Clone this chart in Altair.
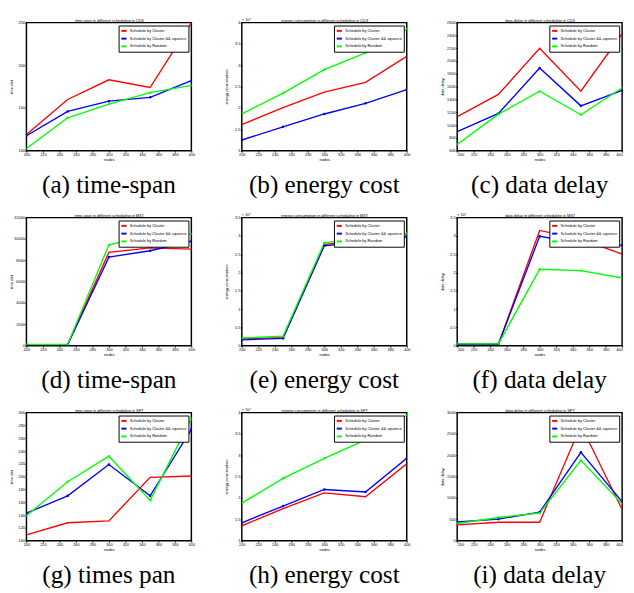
import altair as alt
import pandas as pd

nodes = [200, 250, 300, 350, 400]
series = ["Schedule by Cluster", "Schedule by Cluster && squence", "Schedule by Random"]
colors = ["#FF0000", "#0000FF", "#00FF00"]
x_ticks = [200, 220, 240, 260, 280, 300, 320, 340, 360, 380, 400]

# (a) CDS time-span
cds_time_cluster = [119, 160, 183, 174, 250]
cds_time_seq = [117.5, 146, 158, 162.5, 182]
cds_time_random = [102.5, 138.5, 154.5, 168, 176.5]
cds_time_ticks = [100, 150, 200, 250]
# (b) CDS energy (x 10^4)
cds_energy_cluster = [1.61, 2.01, 2.37, 2.60, 3.21]
cds_energy_seq = [1.25, 1.56, 1.86, 2.11, 2.43]
cds_energy_random = [1.86, 2.35, 2.90, 3.29, 3.85]
cds_energy_ticks = [1, 1.5, 2, 2.5, 3, 3.5, 4]
# (c) CDS data delay
cds_delay_cluster = [1131, 1478, 2198, 1528, 2426]
cds_delay_seq = [898, 1181, 1890, 1300, 1543]
cds_delay_random = [699, 1171, 1528, 1161, 1583]
cds_delay_ticks = [600, 800, 1000, 1200, 1400, 1600, 1800, 2000, 2200, 2400, 2600]
# (d) MST time-span
mst_time_cluster = [100, 100, 8750, 9160, 9050]
mst_time_seq = [100, 100, 8300, 8900, 9790]
mst_time_random = [120, 120, 9460, 10300, 10480]
mst_time_ticks = [0, 2000, 4000, 6000, 8000, 10000, 12000]
# (e) MST energy (x 10^4)
mst_energy_cluster = [0.19, 0.22, 2.76, 2.91, 3.03]
mst_energy_seq = [0.16, 0.20, 2.73, 2.85, 2.97]
mst_energy_random = [0.21, 0.26, 2.81, 2.96, 3.07]
mst_energy_ticks = [0, 0.5, 1, 1.5, 2, 2.5, 3, 3.5]
# (f) MST data delay (x 10^4)
mst_delay_cluster = [0.04, 0.04, 3.15, 2.91, 2.50]
mst_delay_seq = [0.04, 0.04, 2.99, 2.80, 2.74]
mst_delay_random = [0.05, 0.05, 2.09, 2.05, 1.85]
mst_delay_ticks = [0, 0.5, 1, 1.5, 2, 2.5, 3, 3.5]
# (g) SPT time-span
spt_time_cluster = [109, 128, 131, 199, 201]
spt_time_seq = [143, 170, 219, 170, 274]
spt_time_random = [139, 192, 232, 163, 291]
spt_time_ticks = [100, 120, 140, 160, 180, 200, 220, 240, 260, 280, 300]
# (h) SPT energy (x 10^4)
spt_energy_cluster = [1.35, 1.75, 2.12, 2.03, 2.80]
spt_energy_seq = [1.42, 1.81, 2.20, 2.14, 2.93]
spt_energy_random = [1.88, 2.46, 2.93, 3.36, 3.94]
spt_energy_ticks = [1, 1.5, 2, 2.5, 3, 3.5, 4]
# (i) SPT data delay
spt_delay_cluster = [372, 432, 432, 2703, 730]
spt_delay_seq = [439, 506, 670, 2070, 916]
spt_delay_random = [402, 544, 648, 1884, 864]
spt_delay_ticks = [0, 500, 1000, 1500, 2000, 2500, 3000]

titles = [
    "time-span in different scheduling in CDS",
    "energy consumption in different scheduling in CDS",
    "data delay in different scheduling in CDS",
    "time-span in different scheduling in MST",
    "energy consumption in different scheduling in MST",
    "data delay in different scheduling in MST",
    "time-span in different scheduling in SPT",
    "energy consumption in different scheduling in SPT",
    "data delay in different scheduling in SPT",
]
ytitles = ["time slot", "energy consumption", "data delay"] * 3
captions = ["(a) time-span", "(b) energy cost", "(c) data delay",
            "(d) time-span", "(e) energy cost", "(f) data delay",
            "(g) times pan", "(h) energy cost", "(i) data delay"]
exponents = [None, "× 10⁴", None, None, "× 10⁴", "× 10⁴", None, "× 10⁴", None]

values = [
    (cds_time_cluster, cds_time_seq, cds_time_random),
    (cds_energy_cluster, cds_energy_seq, cds_energy_random),
    (cds_delay_cluster, cds_delay_seq, cds_delay_random),
    (mst_time_cluster, mst_time_seq, mst_time_random),
    (mst_energy_cluster, mst_energy_seq, mst_energy_random),
    (mst_delay_cluster, mst_delay_seq, mst_delay_random),
    (spt_time_cluster, spt_time_seq, spt_time_random),
    (spt_energy_cluster, spt_energy_seq, spt_energy_random),
    (spt_delay_cluster, spt_delay_seq, spt_delay_random),
]
yticks = [cds_time_ticks, cds_energy_ticks, cds_delay_ticks,
          mst_time_ticks, mst_energy_ticks, mst_delay_ticks,
          spt_time_ticks, spt_energy_ticks, spt_delay_ticks]

SANS = "Liberation Sans"
W, H = 170, 132

panels = []
for i in range(9):
    rows = []
    for s, vals in zip(series, values[i]):
        for n, v in zip(nodes, vals):
            rows.append({"nodes": n, "series": s, "value": v})
    df = pd.DataFrame(rows)
    yt = yticks[i]
    last_col = (i % 3 == 2)
    xscale = alt.Scale(domain=[200, 400], nice=False, zero=False)
    yscale = alt.Scale(domain=[yt[0], yt[-1]], nice=False, zero=False)
    xaxis = alt.Axis(values=x_ticks, title="nodes", labelFontSize=4, titleFontSize=4,
                     labelFont=SANS, titleFont=SANS, titleFontWeight="normal",
                     titlePadding=1, tickSize=1.5, labelPadding=0.5, grid=False,
                     domain=False, labelFlush=last_col, labelOverlap=False,
                     labelColor="black", titleColor="black", tickColor="black")
    yaxis = alt.Axis(values=yt, title=ytitles[i], format="~f", labelFontSize=4,
                     titleFontSize=4, labelFont=SANS, titleFont=SANS,
                     titleFontWeight="normal", titlePadding=1.5, tickSize=1.5,
                     labelPadding=0.5, grid=False, domain=False, labelFlush=False,
                     labelOverlap=False, minExtent=12, maxExtent=12,
                     labelColor="black", titleColor="black", tickColor="black")
    legend = alt.Legend(title=None, orient="top-right", offset=3, strokeColor="black",
                        fillColor="white", padding=1.5,
                        labelFontSize=4, labelFont=SANS, labelColor="black",
                        symbolType="stroke", symbolSize=28, symbolStrokeWidth=2,
                        rowPadding=0, labelOffset=2, labelLimit=200)
    color = alt.Color("series:N", scale=alt.Scale(domain=series, range=colors), legend=legend)
    base = alt.Chart(df)
    lines = base.mark_line(strokeWidth=1.4, clip=True).encode(
        x=alt.X("nodes:Q", scale=xscale, axis=xaxis),
        y=alt.Y("value:Q", scale=yscale, axis=yaxis),
        color=color,
        order=alt.Order("nodes:Q"),
    )
    pts = base.transform_filter(alt.datum.series != series[0]).mark_point(
        filled=True, size=7, opacity=1, clip=True
    ).encode(
        x=alt.X("nodes:Q", scale=xscale, axis=None),
        y=alt.Y("value:Q", scale=yscale, axis=yaxis),
        color=color,
        shape=alt.Shape("series:N", scale=alt.Scale(domain=series[1:], range=["circle", "cross"]),
                        legend=None),
    )
    top = base.mark_point(opacity=0).encode(
        x=alt.X("nodes:Q", scale=xscale,
                axis=alt.Axis(orient="top", labels=False, ticks=False, domain=False,
                              grid=False, title=titles[i], titleFontSize=4,
                              titleFont=SANS, titleFontWeight="normal",
                              titleColor="black", titlePadding=0.5,
                              minExtent=0, maxExtent=0)),
    )
    layers = [lines, pts, top]
    if exponents[i]:
        exp_df = pd.DataFrame({"t": [exponents[i]]})
        layers.append(
            alt.Chart(exp_df).mark_text(align="left", baseline="bottom", fontSize=4,
                                        font=SANS, color="black").encode(
                text="t:N", x=alt.value(0), y=alt.value(-0.5))
        )
    panel = alt.layer(*layers).resolve_axis(x="independent").properties(
        width=W, height=H,
        title=alt.TitleParams(captions[i], orient="bottom", font="Liberation Serif",
                              fontSize=26, fontWeight="normal", offset=12,
                              anchor="middle", color="black"),
    )
    panels.append(panel)

chart = alt.concat(*panels, columns=3, spacing={"row": 13, "column": 28}).resolve_scale(
    color="independent", shape="independent"
).properties(
    padding=0, background="white"
).configure_view(stroke="black", strokeWidth=1.5)

chart.save("out.html", embed_options={"renderer": "svg", "actions": False})
